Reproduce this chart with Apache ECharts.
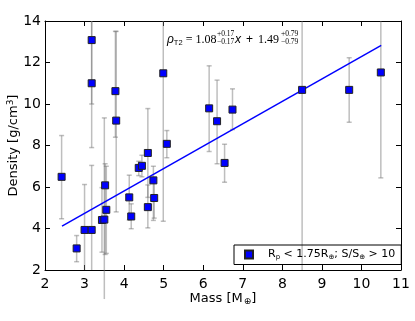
<!DOCTYPE html>
<html>
<head>
<meta charset="utf-8">
<script src="https://cdn.jsdelivr.net/npm/echarts@6/dist/echarts.min.js"></script>
<style>
  html, body { margin: 0; padding: 0; background: #fff; }
  #chart { width: 415px; height: 321px; }
</style>
</head>
<body>
<div id="chart"></div>
<script>
// planet masses [M_earth] and densities [g/cm^3]
const mass = [2.42, 2.8, 3.0, 3.18, 3.18, 3.18, 3.44, 3.5, 3.52, 3.55, 3.78, 3.8, 4.13, 4.18,
  4.37, 4.45, 4.6, 4.6, 4.74, 4.76, 4.99, 5.08, 6.15, 6.35, 6.54, 6.74, 8.5, 9.69, 10.49];
const density = [6.49, 3.04, 3.93, 3.93, 11.0, 13.08, 4.41, 4.43, 6.08, 4.9, 10.62, 9.2, 5.5, 4.58,
  6.92, 7.02, 7.64, 5.03, 6.32, 5.47, 11.48, 8.08, 9.79, 9.17, 7.16, 9.73, 10.68, 10.68, 11.52];
// error bar ends (bars running off the frame stop at it)
const errLow = [4.47, 2.4, 2, 2, 7.9, 10.0, 2.86, 0.6, 2.75, 2.8, 8.4, 4.8, 4.4, 3.99,
  6.55, 6.49, 5.5, 4.03, 4.39, 4.5, 4.35, 7.41, 7.71, 7.12, 6.23, 8.77, 2, 9.12, 6.44];
const errHigh = [8.48, 3.66, 6.12, 7.04, 14, 14, 5.97, 9.33, 7.12, 7.0, 13.5, 13.5, 6.57, 5.19,
  7.24, 7.53, 9.78, 6.1, 7.0, 6.4, 14, 8.72, 11.84, 11.15, 8.06, 10.73, 14, 12.23, 14];
// linear fit end points
const fitX = [2.43, 10.5];
const fitY = [4.11, 12.83];

const points = mass.map((m, i) => [m, density[i]]);
const bars = mass.map((m, i) => [m, errLow[i], errHigh[i]]);
const fitLine = fitX.map((x, i) => [x, fitY[i]]);

const chart = echarts.init(document.getElementById('chart'));

const tickFont = { fontFamily: 'DejaVu Sans', fontSize: 14, color: '#000' };
const sideAxis = {
  type: 'value',
  axisLine: { show: true, lineStyle: { color: '#000', width: 1 } },
  axisTick: { show: true, inside: true, length: 5, lineStyle: { color: '#000' } },
  splitLine: { show: false }
};
const mathFont = '"Liberation Serif"';

const option = {
  animation: false,
  grid: { left: 45, right: 14, top: 21, bottom: 51, containLabel: false, outerBoundsMode: 'none' },
  xAxis: [
    Object.assign({}, sideAxis, {
      min: 2, max: 11, interval: 1, position: 'bottom',
      axisLabel: Object.assign({ margin: 7 }, tickFont),
      name: 'Mass [M{sub|⊕}]',
      nameLocation: 'middle',
      nameGap: 21,
      nameMoveOverlap: false,
      nameTextStyle: {
        fontFamily: 'DejaVu Sans', fontSize: 13, color: '#000',
        rich: { sub: { fontSize: 9, verticalAlign: 'bottom', padding: [6, 0, 0, 1] } }
      }
    }),
    Object.assign({}, sideAxis, {
      min: 2, max: 11, interval: 1, position: 'top', axisLabel: { show: false }
    })
  ],
  yAxis: [
    Object.assign({}, sideAxis, {
      min: 2, max: 14, interval: 2, position: 'left',
      axisLabel: Object.assign({ margin: 4 }, tickFont),
      name: 'Density [g/cm{sup|3}]',
      nameLocation: 'middle',
      nameGap: 24,
      nameMoveOverlap: false,
      nameTextStyle: {
        fontFamily: 'DejaVu Sans', fontSize: 13, color: '#000',
        rich: { sup: { fontSize: 9, verticalAlign: 'top', padding: [0, 0, 6, 0] } }
      }
    }),
    Object.assign({}, sideAxis, {
      min: 2, max: 14, interval: 2, position: 'right', axisLabel: { show: false }
    })
  ],
  legend: {
    left: 234, top: 245,
    padding: [4, 6, 4, 10],
    borderColor: '#000', borderWidth: 1,
    itemWidth: 8, itemHeight: 8, itemGap: 0,
    data: [{ name: 'planets', icon: 'rect', itemStyle: { opacity: 1 } }],
    formatter: () => 'R{sub|p} < 1.75R{sub|⊕}; S/S{sub|⊕} > 10',
    textStyle: {
      fontFamily: 'DejaVu Sans', fontSize: 11, color: '#000', padding: [0, 0, 0, 10],
      rich: { sub: { fontSize: 7, verticalAlign: 'bottom', padding: [5, 0, 0, 0] } }
    }
  },
  graphic: [
    {
      type: 'text', left: 167, top: 34, silent: true,
      style: {
        text: '{i|ρ}{s|T2} = 1.08',
        font: '12px ' + mathFont, fill: '#000',
        rich: { i: { fontStyle: 'italic', fontSize: 12 }, s: { fontSize: 7.5, padding: [5, 0, 0, 0] } }
      }
    },
    {
      type: 'text', left: 217, top: 30, silent: true,
      style: { text: '+0.17\n−0.17', font: '7.5px ' + mathFont, fill: '#000', lineHeight: 8 }
    },
    {
      type: 'text', left: 235, top: 34, silent: true,
      style: {
        text: '{i|x}{p|+}1.49',
        font: '12px ' + mathFont, fill: '#000',
        rich: { i: { fontStyle: 'italic', fontSize: 12 }, p: { fontSize: 12, padding: [0, 5, 0, 5] } }
      }
    },
    {
      type: 'text', left: 281, top: 30, silent: true,
      style: { text: '+0.79\n−0.79', font: '7.5px ' + mathFont, fill: '#000', lineHeight: 8 }
    }
  ],
  series: [
    {
      type: 'custom',
      name: 'errors',
      clip: false,
      silent: true,
      encode: { x: 0, y: [1, 2] },
      data: bars,
      renderItem: (params, api) => {
        const x = api.value(0);
        const vLo = api.value(1);
        const vHi = api.value(2);
        const lo = api.coord([x, vLo]);
        const hi = api.coord([x, vHi]);
        const cw = 2.5;
        const style = { stroke: 'rgba(110,110,110,0.45)', lineWidth: 1.5 };
        const children = [
          { type: 'line', shape: { x1: lo[0], y1: lo[1], x2: hi[0], y2: hi[1] }, style }
        ];
        // caps only where the bar ends inside the frame
        if (vLo > 2 && vLo < 14) {
          children.push({ type: 'line', shape: { x1: lo[0] - cw, y1: lo[1], x2: lo[0] + cw, y2: lo[1] }, style });
        }
        if (vHi > 2 && vHi < 14) {
          children.push({ type: 'line', shape: { x1: hi[0] - cw, y1: hi[1], x2: hi[0] + cw, y2: hi[1] }, style });
        }
        return { type: 'group', children };
      },
      z: 1
    },
    {
      type: 'line',
      name: 'fit',
      data: fitLine,
      showSymbol: false,
      lineStyle: { color: '#0000ff', width: 1.5 },
      z: 2
    },
    {
      type: 'scatter',
      name: 'planets',
      data: points,
      symbol: 'rect',
      symbolSize: 7,
      itemStyle: { color: '#0000ff', borderColor: '#222', borderWidth: 1, opacity: 1 },
      z: 3
    }
  ]
};

chart.setOption(option);
</script>
</body>
</html>
